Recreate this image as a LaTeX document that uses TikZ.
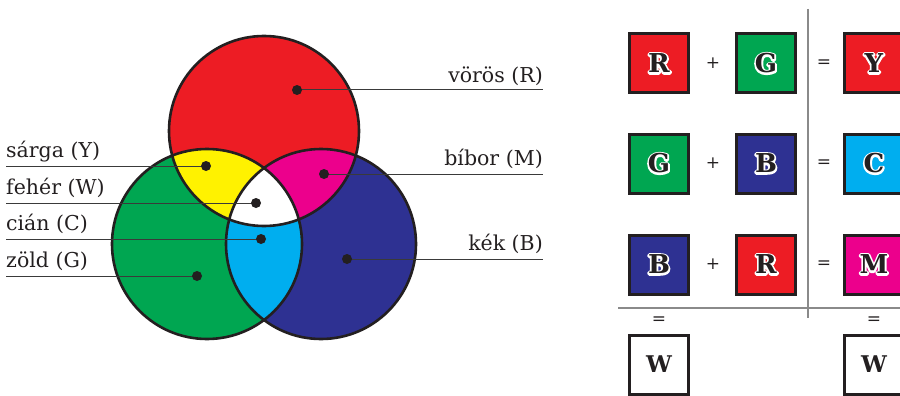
\documentclass[tikz,border=0pt]{standalone}
\usepackage{fontspec}
\setmainfont{DejaVu Serif}
\definecolor{ink}{HTML}{231F20}
\definecolor{leadgray}{HTML}{3A3A3A}
\definecolor{rulegray}{HTML}{8A8A8A}
\definecolor{cred}{HTML}{ED1C24}
\definecolor{cgreen}{HTML}{00A651}
\definecolor{cblue}{HTML}{2E3192}
\definecolor{cyellow}{HTML}{FFF200}
\definecolor{cmagenta}{HTML}{EC008C}
\definecolor{ccyan}{HTML}{00AEEF}
% letter with a white halo: white stroked copy underneath, filled copy on top
\newcommand\haloed[1]{\leavevmode
  \rlap{\special{pdf:literal direct 1 Tr 3.6 w 1 j 1 1 1 RG}#1\special{pdf:literal direct 0 Tr 0.4 w 0 j 0 G}}#1}
\begin{document}
\begin{tikzpicture}[x=1pt,y=-1pt,
  ring/.style={draw=ink, line width=2.6pt},
  dot/.style={circle, fill=ink, inner sep=0pt, minimum size=10pt},
  leader/.style={draw=leadgray, line width=1pt},
  colname/.style={font=\fontsize{20.5}{22}\selectfont, text=ink, inner sep=0pt},
  swatch/.style={draw=ink, line width=3pt, minimum size=59pt, inner sep=0pt,
    font=\fontsize{26}{26}\selectfont\bfseries, text=ink},
  blank/.style={swatch, fill=white, font=\fontsize{23}{23}\selectfont\bfseries},
  op/.style={font=\fontsize{17}{17}\selectfont, text=ink, inner sep=0pt},
  divider/.style={draw=rulegray, line width=1.4pt}
]
\useasboundingbox (0,0) rectangle (900,396);

% circle centres
\def\rad{95pt}
\coordinate (cR) at (264,131);
\coordinate (cG) at (207,244);
\coordinate (cB) at (321,244);

% primary discs
\fill[cred]   (cR) circle[radius=\rad];
\fill[cgreen] (cG) circle[radius=\rad];
\fill[cblue]  (cB) circle[radius=\rad];
% pairwise overlaps
\begin{scope}
  \clip (cR) circle[radius=\rad];
  \fill[cyellow] (cG) circle[radius=\rad];
  \fill[cmagenta] (cB) circle[radius=\rad];
\end{scope}
\begin{scope}
  \clip (cG) circle[radius=\rad];
  \fill[ccyan] (cB) circle[radius=\rad];
\end{scope}
% triple overlap
\begin{scope}
  \clip (cR) circle[radius=\rad];
  \clip (cG) circle[radius=\rad];
  \fill[white] (cB) circle[radius=\rad];
\end{scope}
% outlines
\draw[ring] (cR) circle[radius=\rad];
\draw[ring] (cG) circle[radius=\rad];
\draw[ring] (cB) circle[radius=\rad];

% labels on the right
\node[colname, anchor=base east] (lR) at (543,82)  {vörös (R)};
\node[colname, anchor=base east] (lM) at (543,165) {bíbor (M)};
\node[colname, anchor=base east] (lB) at (543,250) {kék (B)};
\coordinate (eR) at (543,90);
\coordinate (eM) at (543,174);
\coordinate (eB) at (543,259);

% labels on the left
\node[colname, anchor=base west] (lY) at (6,157) {sárga (Y)};
\node[colname, anchor=base west] (lW) at (6,194) {fehér (W)};
\node[colname, anchor=base west] (lC) at (6,230) {cián (C)};
\node[colname, anchor=base west] (lG) at (6,267) {zöld (G)};
\coordinate (eY) at (6,166);
\coordinate (eW) at (6,203);
\coordinate (eC) at (6,239);
\coordinate (eG) at (6,276);

% marker points in each region
\coordinate (pR) at (297,90);
\coordinate (pM) at (324,174);
\coordinate (pB) at (347,259);
\coordinate (pY) at (206,166);
\coordinate (pW) at (256,203);
\coordinate (pC) at (261,239);
\coordinate (pG) at (197,276);

\foreach \k in {R,M,B,Y,W,C,G} {
  \draw[leader] (p\k) -- (e\k);
  \node[dot] (d\k) at (p\k) {};
}

% mixing table
\node[swatch, fill=cred]     (a1) at (659,63.5)  {\haloed{R}};
\node[swatch, fill=cgreen]   (b1) at (766,63.5)  {\haloed{G}};
\node[swatch, fill=cred]     (c1) at (874,63.5)  {\haloed{Y}};
\node[swatch, fill=cgreen]   (a2) at (659,163.5) {\haloed{G}};
\node[swatch, fill=cblue]    (b2) at (766,163.5) {\haloed{B}};
\node[swatch, fill=ccyan]    (c2) at (874,163.5) {\haloed{C}};
\node[swatch, fill=cblue]    (a3) at (659,264.5) {\haloed{B}};
\node[swatch, fill=cred]     (b3) at (766,264.5) {\haloed{R}};
\node[swatch, fill=cmagenta] (c3) at (874,264.5) {\haloed{M}};
\node[blank]                 (a4) at (659,364.5) {W};
\node[blank]                 (c4) at (874,364.5) {W};

\node[op] (p1) at (713,63.5)  {+};
\node[op] (p2) at (713,163.5) {+};
\node[op] (p3) at (713,264.5) {+};
\node[op] (q1) at (824,63.5)  {=};
\node[op] (q2) at (824,163.5) {=};
\node[op] (q3) at (824,264.5) {=};
\node[op] (q4) at (659,321)   {=};
\node[op] (q5) at (874,321)   {=};

% table rules
\coordinate (vtop) at (808,9);
\coordinate (vbot) at (808,318);
\coordinate (hl) at (618,308);
\coordinate (hr) at (900,308);
\draw[divider] (vtop) -- (vbot);
\draw[divider] (hl) -- (hr);
\end{tikzpicture}
\end{document}
